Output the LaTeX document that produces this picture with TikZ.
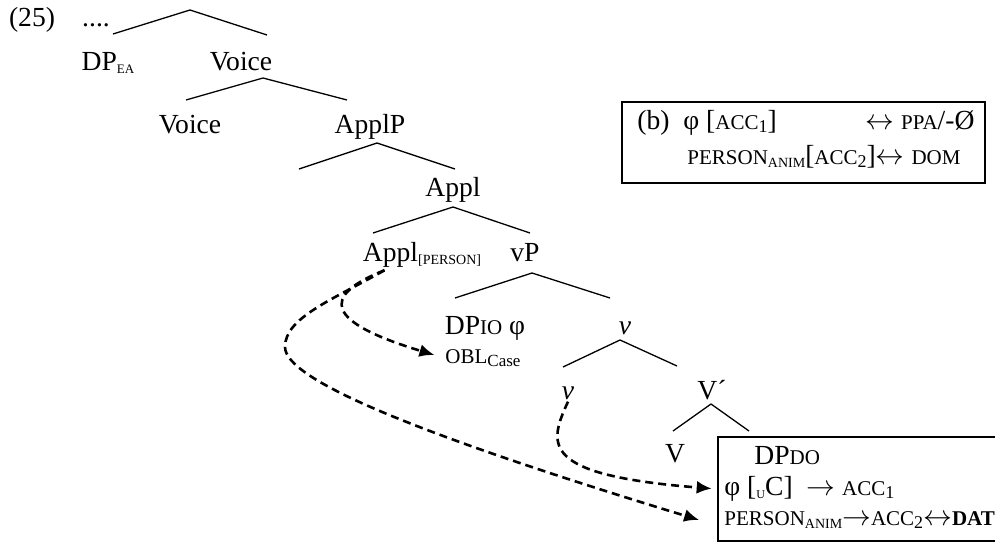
\documentclass[tikz,border=0pt]{standalone}
\usepackage{fontspec}
\setmainfont{Liberation Serif}
\usetikzlibrary{arrows.meta}
\newcommand{\capsz}{\fontsize{10.5pt}{12pt}\selectfont}
\newcommand{\dn}[2]{\raisebox{-1.5pt}{\fontsize{#1}{#1}\selectfont #2}}

\begin{document}
\begin{tikzpicture}[x=0.5pt,y=-0.5pt,font=\fontsize{13.8pt}{16pt}\selectfont]
\tikzstyle{word} = [
	anchor=base, %text sits on the given baseline
	inner sep=1pt
];
\tikzstyle{boxline} = [word, anchor=base west, inner sep=0pt];
\tikzstyle{branch} = [line width=0.65pt];
\tikzstyle{frame} = [
	draw,
	line width=1.3pt,
	inner sep=0pt
];
\tikzstyle{move} = [
	-{Latex[length=7.5pt,width=6.5pt]},
	line width=1.3pt,
	dash pattern=on 4pt off 2.5pt
];

\useasboundingbox (0,0) rectangle (995,545);
\clip (0,0) rectangle (995,545);

%boxes
\node[frame, minimum width=181.5pt, minimum height=40.5pt](bbox) at (803.5,142.5) {};
\node[frame, minimum width=150pt, minimum height=52pt](dobox) at (868,489) {};

%tree labels
\node[word](ex) at (32,27) {(25)};
\node[word](dots) at (96,27) {....};
\node[word](dpea) at (108,71) {DP\dn{6.5pt}{EA}};
\node[word](voice1) at (241,71) {Voice};
\node[word](voice2) at (190,134) {Voice};
\node[word](applp) at (370,134) {ApplP};
\node[word](appl) at (453,197) {Appl};
\node[word](applperson) at (422,262) {Appl\dn{7pt}{[PERSON]}};
\node[word](vp) at (525,262) {vP};
\node[word](dpio) at (485,334) {DP{\capsz IO} φ};
\node[word](obl) at (483,363) {{\capsz OBL}\dn{8.5pt}{Case}};
\node[word](vlittle1) at (625,334) {\textit{v}};
\node[word](vlittle2) at (568,399) {\textit{v}};
\node[word](vbar) at (712,399) {V´};
\node[word](verb) at (675,462) {V};

%direct object box
\node[boxline](dpdo) at (754,464) {DP{\capsz DO}};
\node[boxline](phido) at (724,495) {φ [\dn{6pt}{U}C]\ \ $\rightarrow$ {\capsz ACC}\dn{9pt}{1}};
\node[boxline](persondo) at (724,525) {{\capsz PERSON}\dn{7pt}{ANIM}$\rightarrow${\capsz ACC}\dn{9pt}{2}$\leftrightarrow${\capsz\bfseries DAT}};

%rules in box (b)
\node[boxline](bline1) at (637,130) {(b)\ \ φ [{\capsz ACC}\dn{9pt}{1}]};
\node[boxline](bppa) at (865,130) {$\leftrightarrow$ {\capsz PPA}/-Ø};
\node[boxline](bline2) at (687,165) {{\capsz PERSON}\dn{7pt}{ANIM}[{\capsz ACC}\dn{9pt}{2}]$\leftrightarrow$ {\capsz DOM}};

%branch points
\coordinate (br0) at (190,10);  \coordinate (br0L) at (113,34);  \coordinate (br0R) at (267,35);
\coordinate (br1) at (263,78);  \coordinate (br1L) at (186,100); \coordinate (br1R) at (347,100);
\coordinate (br2) at (377,143); \coordinate (br2L) at (299,169); \coordinate (br2R) at (455,169);
\coordinate (br3) at (453,207); \coordinate (br3L) at (373,233); \coordinate (br3R) at (530,233);
\coordinate (br4) at (532,273); \coordinate (br4L) at (455,298); \coordinate (br4R) at (610,298);
\coordinate (br5) at (620,340); \coordinate (br5L) at (563,367); \coordinate (br5R) at (677,366);
\coordinate (br6) at (711,404); \coordinate (br6L) at (673,431); \coordinate (br6R) at (749,431);

\draw[branch]
	(br0) -- (br0L) (br0) -- (br0R)
	(br1) -- (br1L) (br1) -- (br1R)
	(br2) -- (br2L) (br2) -- (br2R)
	(br3) -- (br3L) (br3) -- (br3R)
	(br4) -- (br4L) (br4) -- (br4R)
	(br5) -- (br5L) (br5) -- (br5R)
	(br6) -- (br6L) (br6) -- (br6R)
;

%Appl to the indirect object
\draw[move, shorten >=4.5pt] ([xshift=12pt]applperson.south west)
	.. controls (320,296) and (325,322) .. (obl.west);

%Appl to the person feature of the direct object
\draw[move, shorten >=13pt] ([xshift=12pt]applperson.south west)
	.. controls (330,301) and (285,318) .. (285,347)
	.. controls (285,380) and (420,435) .. ([yshift=-4pt]persondo.west);

%v to the phi features of the direct object
\draw[move, shorten >=2.5pt] (vlittle2.south)
	.. controls (548,445) and (540,475) .. (dobox.west);

\end{tikzpicture}
\end{document}
